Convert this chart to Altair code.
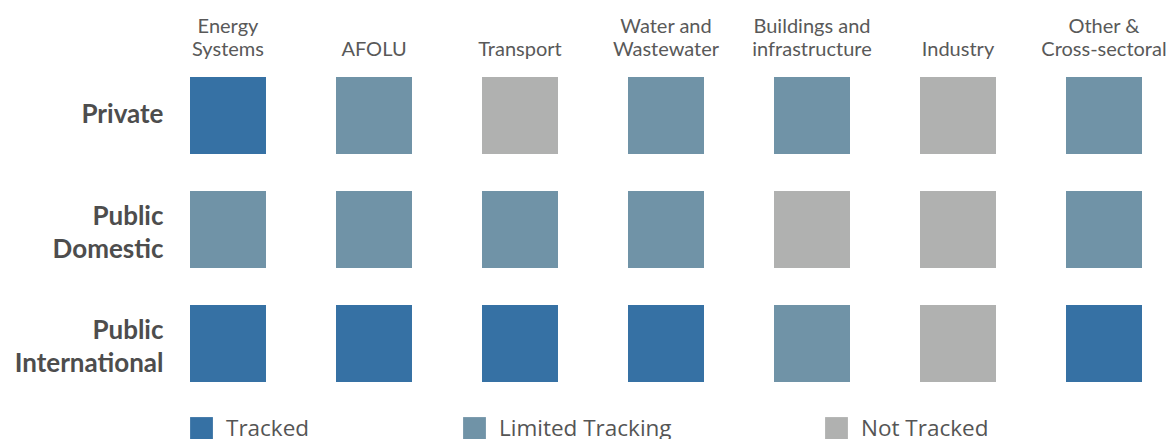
import altair as alt
import pandas as pd

sectors = ["Energy\nSystems", "AFOLU", "Transport", "Water and\nWastewater",
           "Buildings and\ninfrastructure", "Industry", "Other &\nCross-sectoral"]
finance_types = ["Private", "Public\nDomestic", "Public\nInternational"]
statuses = ["Tracked", "Limited Tracking", "Not Tracked"]
status_colors = ["#3671a4", "#7093a7", "#b0b1b0"]

private_status = ["Tracked", "Limited Tracking", "Not Tracked", "Limited Tracking",
                  "Limited Tracking", "Not Tracked", "Limited Tracking"]
public_domestic_status = ["Limited Tracking", "Limited Tracking", "Limited Tracking",
                          "Limited Tracking", "Not Tracked", "Not Tracked", "Limited Tracking"]
public_international_status = ["Tracked", "Tracked", "Tracked", "Tracked",
                               "Limited Tracking", "Not Tracked", "Tracked"]

rows = []
for ft, sts in zip(finance_types, [private_status, public_domestic_status, public_international_status]):
    for sec, st in zip(sectors, sts):
        rows.append({"sector": sec, "finance": ft, "status": st})
df = pd.DataFrame(rows)

chart = alt.Chart(df).mark_rect().encode(
    x=alt.X("sector:N", sort=sectors,
            scale=alt.Scale(paddingInner=0.4795, paddingOuter=0),
            axis=alt.Axis(orient="top", title=None, ticks=False, tickSize=0, domain=False,
                          labelAngle=0, labelAlign="center", labelBaseline="bottom",
                          labelExpr="indexof(datum.label, '\\n') >= 0 ? split(datum.label, '\\n') : ['', datum.label]",
                          labelFont="Lato", labelFontSize=20, labelLineHeight=23,
                          labelColor="#595959", labelPadding=41, labelLimit=300)),
    y=alt.Y("finance:N", sort=finance_types,
            scale=alt.Scale(paddingInner=0.3246, paddingOuter=0),
            axis=alt.Axis(title=None, ticks=False, tickSize=0, domain=False,
                          labelAlign="right",
                          labelBaseline={"condition": {"test": "indexof(datum.value, '\\n') >= 0",
                                                       "value": "bottom"},
                                         "value": "middle"},
                          labelExpr="split(datum.label, '\\n')",
                          labelFont="Lato", labelFontSize=26, labelFontWeight="bold",
                          labelLineHeight=33, labelColor="#4d4d4d", labelPadding=27,
                          labelLimit=300)),
    color=alt.Color("status:N",
                    scale=alt.Scale(domain=statuses, range=status_colors),
                    legend=alt.Legend(orient="none", legendX=0, legendY=340,
                                      direction="horizontal", title=None,
                                      symbolType="square", symbolSize=520,
                                      symbolStrokeWidth=0, symbolOpacity=1,
                                      labelFont="Open Sans", labelFontSize=22.5,
                                      labelColor="#555555", labelOffset=13,
                                      columnPadding=153, padding=0,
                                      labelLimit=400)),
).properties(
    width=952, height=305,
    autosize=alt.AutoSizeParams(type="none"),
    padding={"left": 190, "top": 77, "right": 30, "bottom": 57},
    background="white",
).configure_view(stroke=None, strokeWidth=0)

chart.save("out.html", embed_options={"renderer": "svg", "actions": False})
